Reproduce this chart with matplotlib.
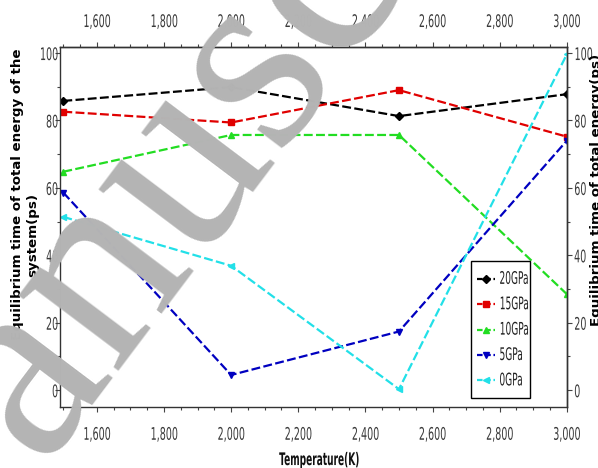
import matplotlib
matplotlib.use("Agg")
import matplotlib.pyplot as plt
from matplotlib.ticker import MultipleLocator, FuncFormatter
from matplotlib.patheffects import AbstractPathEffect
from matplotlib.transforms import Affine2D
from matplotlib.patches import Rectangle

temps = [1500, 2000, 2500, 3000]
p20 = [85.8, 89.9, 81.3, 87.8]
p15 = [82.6, 79.4, 89.0, 75.2]
p10 = [64.8, 75.7, 75.7, 28.5]
p5 = [58.6, 4.5, 17.4, 74.0]
p0 = [51.4, 36.9, 0.3, 99.6]

series = [("20GPa", p20, "black", "D"),
          ("15GPa", p15, "#e00000", "s"),
          ("10GPa", p10, "#22dd22", "^"),
          ("5GPa", p5, "#0000c0", "v"),
          ("0GPa", p0, "#22e0e8", "<")]


class Squeeze(AbstractPathEffect):
    # narrow a text horizontally (reference uses a condensed font)
    def __init__(self, sx=0.55, anchor="center"):
        super().__init__()
        self.sx = sx
        self.anchor = anchor

    def draw_path(self, renderer, gc, tpath, affine, rgbFace=None):
        ext = tpath.get_extents()
        if self.anchor == "left":
            x0 = ext.x0
        elif self.anchor == "right":
            x0 = ext.x1
        else:
            x0 = (ext.x0 + ext.x1) / 2
        t = Affine2D().translate(-x0, 0).scale(self.sx, 1).translate(x0, 0) + affine
        renderer.draw_path(gc, tpath, t, rgbFace)


fig = plt.figure(figsize=(5.98, 4.68), dpi=100)
ax = fig.add_axes([0.1003, 0.1303, 0.8475, 0.7693])

for name, vals, col, mk in series:
    ax.plot(temps, vals, color=col, linestyle=(0, (4, 1.5)), linewidth=1.6,
            marker=mk, markersize=4, label=name)

ax.set_xlim(1490, 3000)
ax.set_ylim(-5, 101.8)

fmt = FuncFormatter(lambda v, p: "{:,.0f}".format(v))


def style_axis(a, which, pad):
    a.tick_params(axis=which, which="major", direction="out", length=3.5, width=0.8,
                  labelsize=12.5, colors="#444444", labelcolor="#3a3a3a", pad=pad)
    a.tick_params(axis=which, which="minor", direction="out", length=2.5, width=0.8,
                  colors="#444444")


ax.xaxis.set_major_locator(MultipleLocator(200))
ax.xaxis.set_minor_locator(MultipleLocator(50))
ax.xaxis.set_major_formatter(fmt)
ax.yaxis.set_major_locator(MultipleLocator(20))
ax.yaxis.set_minor_locator(MultipleLocator(10))
style_axis(ax, "x", 10)
style_axis(ax, "y", -2.5)

top = ax.secondary_xaxis("top")
top.xaxis.set_major_locator(MultipleLocator(200))
top.xaxis.set_minor_locator(MultipleLocator(50))
top.xaxis.set_major_formatter(fmt)
style_axis(top, "x", 8)

right = ax.secondary_yaxis("right")
right.yaxis.set_major_locator(MultipleLocator(20))
right.yaxis.set_minor_locator(MultipleLocator(10))
style_axis(right, "y", 1.5)

for a in (ax, top, right):
    for sp in a.spines.values():
        sp.set_color("#333333")
        sp.set_linewidth(1.0)

# legend drawn by hand so the box fits the narrow labels
lx0, lx1, ly0, ly1 = 0.811, 0.927, 0.025, 0.406
ax.add_patch(Rectangle((lx0, ly0), lx1 - lx0, ly1 - ly0, transform=ax.transAxes,
                       facecolor="white", edgecolor="black", linewidth=1.0, zorder=5))
for i, (name, vals, col, mk) in enumerate(series):
    yy = 0.356 - i * 0.0705
    ax.plot([0.822, 0.859], [yy, yy], transform=ax.transAxes, color=col,
            linestyle=(0, (2.5, 1.2)), linewidth=1.6, zorder=6)
    ax.plot([0.8405], [yy], transform=ax.transAxes, color=col, marker=mk,
            markersize=4, zorder=6)
    ax.text(0.866, yy, name, transform=ax.transAxes, ha="left", va="center",
            fontsize=12.5, color="#222222", zorder=7,
            path_effects=[Squeeze(0.52, "left")])

fig.text(0.535, 0.017, "Temperature(K)", ha="center", va="center",
         fontsize=12.5, fontweight="bold", color="#111111",
         path_effects=[Squeeze(0.52)])

fig.text(0.030, 0.585, "Equilibrium time of total energy of the", rotation=90,
         ha="center", va="center", fontsize=9.6, fontweight="bold")
fig.text(0.054, 0.498, "system(ps)", rotation=90,
         ha="center", va="center", fontsize=9.6, fontweight="bold")
fig.text(0.998, 0.594, "Equilibrium time of total energy(ps)", rotation=90,
         ha="center", va="center", fontsize=9.6, fontweight="bold")

# watermark
fig.text(0.066, 0.01, "anuscript", rotation=53, rotation_mode="anchor",
         ha="left", va="baseline", fontsize=195, family="Liberation Serif",
         color="#b4b4b4", zorder=10)

fig.canvas.draw()
for lab in ax.get_xticklabels() + top.get_xticklabels():
    lab.set_path_effects([Squeeze(0.55, "center")])
for lab in ax.get_yticklabels():
    lab.set_path_effects([Squeeze(0.55, "right")])
for lab in right.get_yticklabels():
    lab.set_path_effects([Squeeze(0.55, "left")])

fig.savefig("out.png", dpi=100)
